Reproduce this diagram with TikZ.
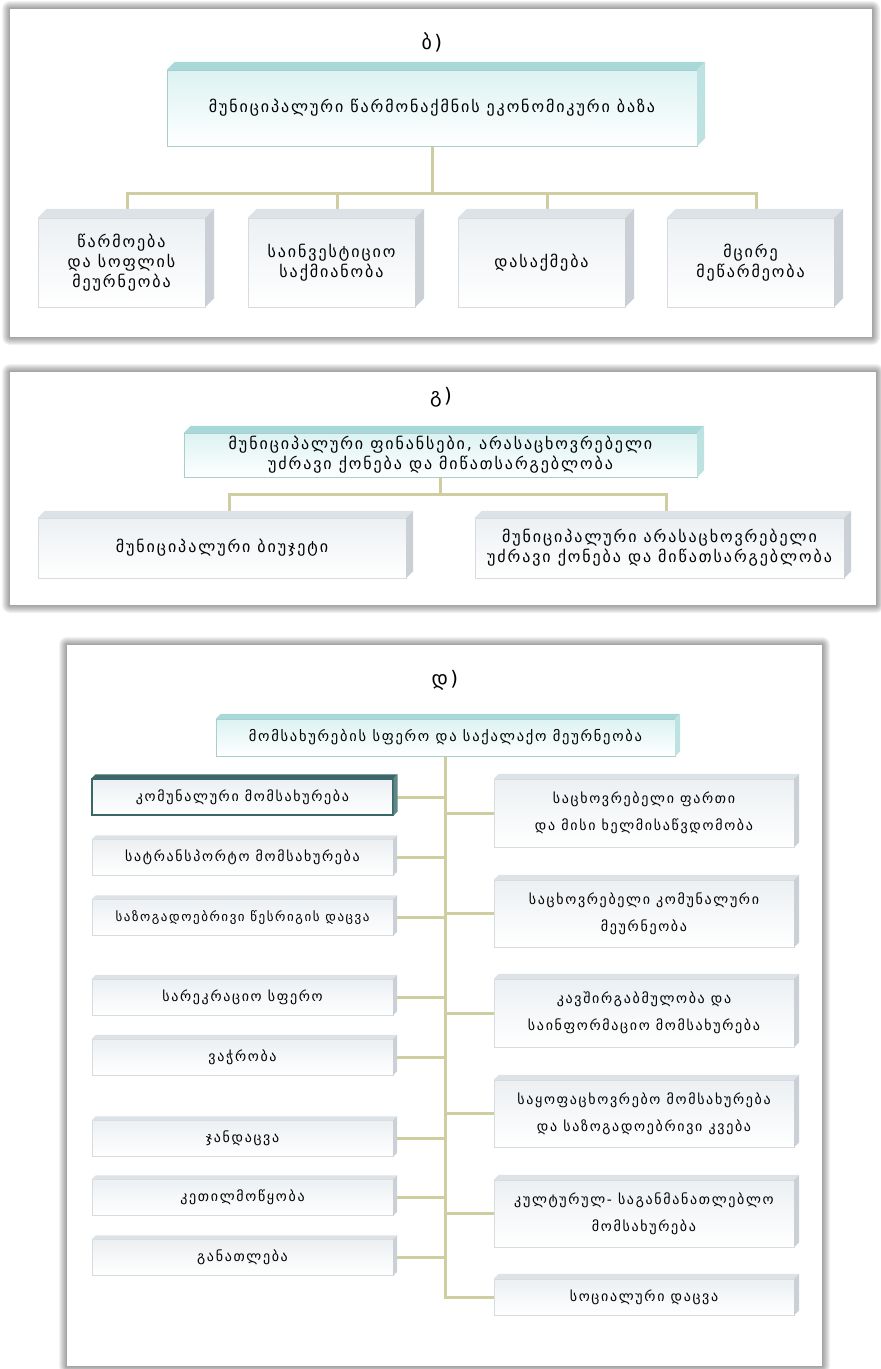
\documentclass[tikz,border=0pt]{standalone}
\usepackage{fontspec}
\setmainfont{DejaVu Sans}[LetterSpace=12]
\definecolor{linkc}{RGB}{206,206,160}
\definecolor{tealtop}{RGB}{168,216,216}
\definecolor{tealside}{RGB}{190,226,226}
\definecolor{tealfront}{RGB}{220,242,242}
\definecolor{tealedge}{RGB}{170,205,205}
\definecolor{greytop}{RGB}{220,226,230}
\definecolor{greyside}{RGB}{202,208,214}
\definecolor{greyfront}{RGB}{236,240,243}
\definecolor{greyedge}{RGB}{214,220,224}
\definecolor{darkteal}{RGB}{58,104,104}
\pgfdeclarelayer{back}
\pgfdeclarelayer{wires}
\pgfsetlayers{back,wires,main}
% top and right faces of a box node: name, depth, top colour, side colour
\newcommand{\boxfaces}[4]{%
 \fill[#3] (#1.north west) -- ++(#2,-#2) -- ([xshift=#2pt,yshift=#2pt]#1.north east) -- (#1.north east) -- cycle;
 \fill[#4] (#1.north east) -- ++(#2,-#2) -- ([xshift=#2pt,yshift=#2pt]#1.south east) -- (#1.south east) -- cycle;}
% soft panel with a grey shadow round it
\newcommand{\panelbox}[4]{%
 \foreach \s in {1,...,8} \fill[black,opacity=0.05,rounded corners=\s pt] (#1-\s,#2-\s) rectangle (#3+\s,#4+\s);
 \fill[white] (#1,#2) rectangle (#3,#4);}
\begin{document}
\begin{tikzpicture}[x=1pt,y=-1pt]
 \tikzstyle{headbox}=[rectangle,draw=tealedge,thin,top color=tealfront,bottom color=white,text=black,align=center,inner sep=2pt]
 \tikzstyle{leafbox}=[rectangle,draw=greyedge,thin,top color=greyfront,bottom color=white,text=black,align=center,inner sep=2pt]
 \tikzstyle{hotbox}=[leafbox,draw=darkteal,line width=1.2pt]
 \tikzstyle{link}=[draw=linkc,line width=3pt]
 \tikzstyle{tag}=[font=\fontsize{20}{24}\selectfont]
 \tikzstyle{big}=[font=\fontsize{16}{20}\selectfont]
 \tikzstyle{small}=[font=\fontsize{14}{27}\selectfont]
 \useasboundingbox (0,0) rectangle (881,1369);
 %
 \begin{pgfonlayer}{back}
  \fill[white] (0,0) rectangle (881,1369);
  \panelbox{10}{9}{872}{337}
  \panelbox{10}{372}{876}{605}
  \panelbox{67}{645}{822}{1366}
 \end{pgfonlayer}
 %
 % panel b
 \node[tag] (tb) at (432,42) {ბ)};
 \node[headbox, big, minimum width=530pt, minimum height=76pt] (econ) at (432,108) {მუნიციპალური წარმონაქმნის ეკონომიკური ბაზა};
 \node[leafbox, big, minimum width=167pt, minimum height=89pt] (prod) at (121.5,262.5) {წარმოება\\და სოფლის\\მეურნეობა};
 \node[leafbox, big, minimum width=167pt, minimum height=89pt] (invest) at (331.5,262.5) {საინვესტიციო\\საქმიანობა};
 \node[leafbox, big, minimum width=167pt, minimum height=89pt] (empl) at (541.5,262.5) {დასაქმება};
 \node[leafbox, big, minimum width=167pt, minimum height=89pt] (small) at (750.5,262.5) {მცირე\\მეწარმეობა};
 \boxfaces{econ}{8}{tealtop}{tealside}
 \boxfaces{prod}{9}{greytop}{greyside}
 \boxfaces{invest}{9}{greytop}{greyside}
 \boxfaces{empl}{9}{greytop}{greyside}
 \boxfaces{small}{9}{greytop}{greyside}
 %
 % panel g
 \node[tag] (tg) at (441,397) {გ)};
 \node[headbox, big, minimum width=513pt, minimum height=44pt] (fin) at (440.5,455) {მუნიციპალური ფინანსები, არასაცხოვრებელი\\უძრავი ქონება და მიწათსარგებლობა};
 \node[leafbox, big, minimum width=368pt, minimum height=60pt] (budget) at (222,548) {მუნიციპალური ბიუჯეტი};
 \node[leafbox, big, minimum width=369pt, minimum height=60pt] (estate) at (659.5,548) {მუნიციპალური არასაცხოვრებელი\\უძრავი ქონება და მიწათსარგებლობა};
 \boxfaces{fin}{7}{tealtop}{tealside}
 \boxfaces{budget}{7}{greytop}{greyside}
 \boxfaces{estate}{7}{greytop}{greyside}
 %
 % panel d
 \node[tag] (td) at (445,680) {დ)};
 \node[headbox, font=\fontsize{14.5}{20}\selectfont, minimum width=459pt, minimum height=37pt] (serv) at (445.5,737.5) {მომსახურების სფერო და საქალაქო მეურნეობა};
 \node[hotbox, small, minimum width=301pt, minimum height=36pt] (comm) at (242.5,797) {კომუნალური მომსახურება};
 \node[leafbox, small, minimum width=301pt, minimum height=36pt] (trans) at (242.5,857.5) {სატრანსპორტო მომსახურება};
 \node[leafbox, font=\fontsize{13}{20}\selectfont, minimum width=301pt, minimum height=36pt] (order) at (242.5,917.5) {საზოგადოებრივი წესრიგის დაცვა};
 \node[leafbox, small, minimum width=301pt, minimum height=36pt] (recr) at (242.5,997) {სარეკრაციო სფერო};
 \node[leafbox, small, minimum width=301pt, minimum height=36pt] (trade) at (242.5,1057) {ვაჭრობა};
 \node[leafbox, small, minimum width=301pt, minimum height=36pt] (health) at (242.5,1138.5) {ჯანდაცვა};
 \node[leafbox, small, minimum width=301pt, minimum height=36pt] (amen) at (242.5,1197.5) {კეთილმოწყობა};
 \node[leafbox, small, minimum width=301pt, minimum height=36pt] (edu) at (242.5,1257.5) {განათლება};
 \node[leafbox, small, minimum width=300pt, minimum height=68pt] (house) at (644,813) {საცხოვრებელი ფართი\\და მისი ხელმისაწვდომობა};
 \node[leafbox, small, minimum width=300pt, minimum height=67pt] (util) at (644,913.5) {საცხოვრებელი კომუნალური\\მეურნეობა};
 \node[leafbox, small, minimum width=300pt, minimum height=68pt] (telec) at (644,1013) {კავშირგაბმულობა და\\საინფორმაციო მომსახურება};
 \node[leafbox, small, minimum width=300pt, minimum height=67pt] (domest) at (644,1113.5) {საყოფაცხოვრებო მომსახურება\\და საზოგადოებრივი კვება};
 \node[leafbox, small, minimum width=300pt, minimum height=67pt] (cult) at (644,1213.5) {კულტურულ- საგანმანათლებლო\\მომსახურება};
 \node[leafbox, small, minimum width=300pt, minimum height=36pt] (social) at (644,1297) {სოციალური დაცვა};
 \boxfaces{serv}{5}{tealtop}{tealside}
 \boxfaces{comm}{4}{darkteal}{darkteal!80}
 \boxfaces{trans}{4}{greytop}{greyside}
 \boxfaces{order}{4}{greytop}{greyside}
 \boxfaces{recr}{4}{greytop}{greyside}
 \boxfaces{trade}{4}{greytop}{greyside}
 \boxfaces{health}{4}{greytop}{greyside}
 \boxfaces{amen}{4}{greytop}{greyside}
 \boxfaces{edu}{4}{greytop}{greyside}
 \boxfaces{house}{5}{greytop}{greyside}
 \boxfaces{util}{5}{greytop}{greyside}
 \boxfaces{telec}{5}{greytop}{greyside}
 \boxfaces{domest}{5}{greytop}{greyside}
 \boxfaces{cult}{5}{greytop}{greyside}
 \boxfaces{social}{5}{greytop}{greyside}
 %
 \begin{pgfonlayer}{wires}
  \draw[link] (econ.south) -- ++(0,47) -| ([xshift=6pt]prod.north);
  \draw[link] (econ.south) -- ++(0,47) -| ([xshift=6pt]invest.north);
  \draw[link] (econ.south) -- ++(0,47) -| ([xshift=6pt]empl.north);
  \draw[link] (econ.south) -- ++(0,47) -| ([xshift=6pt]small.north);
  \draw[link] (fin.south) -- ++(0,17) -| ([xshift=7pt]budget.north);
  \draw[link] (fin.south) -- ++(0,17) -| ([xshift=7pt]estate.north);
  \draw[link] (serv.south) |- (social.west);
  \draw[link] (comm.east) -- (comm.east -| serv.south);
  \draw[link] (trans.east) -- (trans.east -| serv.south);
  \draw[link] (order.east) -- (order.east -| serv.south);
  \draw[link] (recr.east) -- (recr.east -| serv.south);
  \draw[link] (trade.east) -- (trade.east -| serv.south);
  \draw[link] (health.east) -- (health.east -| serv.south);
  \draw[link] (amen.east) -- (amen.east -| serv.south);
  \draw[link] (edu.east) -- (edu.east -| serv.south);
  \draw[link] (house.west -| serv.south) -- (house.west);
  \draw[link] (util.west -| serv.south) -- (util.west);
  \draw[link] (telec.west -| serv.south) -- (telec.west);
  \draw[link] (domest.west -| serv.south) -- (domest.west);
  \draw[link] (cult.west -| serv.south) -- (cult.west);
 \end{pgfonlayer}
\end{tikzpicture}
\end{document}
